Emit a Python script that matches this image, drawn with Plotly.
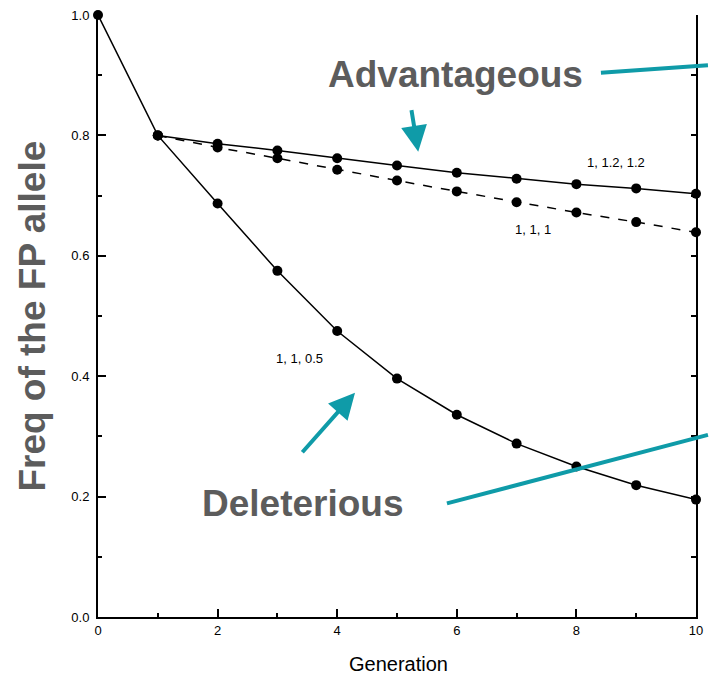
import plotly.graph_objects as go

generations = list(range(0, 11))
gen_sel = list(range(1, 11))
deleterious = [1.0, 0.80, 0.687, 0.575, 0.475, 0.396, 0.336, 0.288, 0.25, 0.219, 0.195]
advantageous = [0.80, 0.786, 0.775, 0.762, 0.75, 0.738, 0.728, 0.719, 0.712, 0.703]
neutral = [0.80, 0.780, 0.762, 0.743, 0.725, 0.707, 0.689, 0.672, 0.656, 0.639]
x_ticks = [0, 2, 4, 6, 8, 10]
y_ticks = [0.0, 0.2, 0.4, 0.6, 0.8, 1.0]

TEAL = "#0f9ba8"
GRAY = "#5c5c5c"
FONT = "Liberation Sans, Arial, sans-serif"

fig = go.Figure()
fig.add_trace(go.Scatter(x=gen_sel, y=neutral, mode="lines+markers",
                         line=dict(color="black", width=1.5, dash="dash"),
                         marker=dict(color="black", size=10), cliponaxis=False))
fig.add_trace(go.Scatter(x=gen_sel, y=advantageous, mode="lines+markers",
                         line=dict(color="black", width=1.5),
                         marker=dict(color="black", size=10), cliponaxis=False))
fig.add_trace(go.Scatter(x=generations, y=deleterious, mode="lines+markers",
                         line=dict(color="black", width=1.5),
                         marker=dict(color="black", size=10), cliponaxis=False))
fig.add_trace(go.Scatter(x=[0, 10], y=[0, 1], yaxis="y2", mode="none",
                         hoverinfo="skip", showlegend=False))

axis_common = dict(showline=True, linecolor="black", linewidth=2, showgrid=False,
                   zeroline=False, ticks="inside", tickcolor="black", tickwidth=2,
                   tickfont=dict(family=FONT, size=13, color="black"))

fig.update_layout(
    width=711, height=676, showlegend=False,
    paper_bgcolor="white", plot_bgcolor="white",
    margin=dict(l=98, r=8, t=13, b=59),
    xaxis=dict(range=[0, 10], tickvals=x_ticks, ticklen=8,
               minor=dict(dtick=1, ticks="inside", ticklen=4, tickcolor="black", tickwidth=2),
               **axis_common),
    yaxis=dict(range=[0, 1], tickvals=y_ticks, ticktext=["0.0", "0.2", "0.4", "0.6", "0.8", "1.0"],
               ticklen=8, ticklabelstandoff=4,
               minor=dict(dtick=0.1, ticks="inside", ticklen=4, tickcolor="black", tickwidth=2),
               **axis_common),
    yaxis2=dict(range=[0, 1], overlaying="y", side="right", showline=True, linecolor="black",
                linewidth=2, showgrid=False, zeroline=False, ticks="inside", dtick=0.1,
                ticklen=5, tickwidth=2, tickcolor="black", showticklabels=False),
)

annotations = [
    dict(text="Freq of the FP allele", x=-0.111, y=0.5, xref="paper", yref="paper",
         textangle=-90, showarrow=False, xanchor="center", yanchor="middle",
         font=dict(family=FONT, size=37, color=GRAY, weight="bold")),
    dict(text="Generation", x=0.502, y=-0.078, xref="paper", yref="paper",
         showarrow=False, xanchor="center", yanchor="middle",
         font=dict(family=FONT, size=20, color="black")),
    dict(text="Advantageous", x=0.597, y=0.9007, xref="paper", yref="paper",
         showarrow=False, xanchor="center", yanchor="middle",
         font=dict(family=FONT, size=37, color=GRAY, weight="bold")),
    dict(text="Deleterious", x=0.342, y=0.189, xref="paper", yref="paper",
         showarrow=False, xanchor="center", yanchor="middle",
         font=dict(family=FONT, size=37, color=GRAY, weight="bold")),
    dict(text="1, 1.2, 1.2", x=8.66, y=0.755, xref="x", yref="y", showarrow=False,
         font=dict(family=FONT, size=13, color="black")),
    dict(text="1, 1, 1", x=7.27, y=0.644, xref="x", yref="y", showarrow=False,
         font=dict(family=FONT, size=13, color="black")),
    dict(text="1, 1, 0.5", x=3.37, y=0.430, xref="x", yref="y", showarrow=False,
         font=dict(family=FONT, size=13, color="black")),
    dict(text="", x=0.5355, y=0.773, xref="paper", yref="paper", showarrow=True,
         ax=-7, ay=-43, arrowhead=2, arrowsize=1.3, arrowwidth=4, arrowcolor=TEAL),
    dict(text="", x=0.4298, y=0.3725, xref="paper", yref="paper", showarrow=True,
         ax=-54, ay=61, arrowhead=2, arrowsize=1.3, arrowwidth=4, arrowcolor=TEAL),
]
fig.update_layout(annotations=annotations)

fig.add_shape(type="line", xref="paper", yref="paper", x0=0.841, y0=0.904, x1=1.02, y1=0.9165,
              line=dict(color=TEAL, width=4))
fig.add_shape(type="line", xref="paper", yref="paper", x0=0.5835, y0=0.1887, x1=1.02, y1=0.3025,
              line=dict(color=TEAL, width=4))

fig.write_html("out.html")
